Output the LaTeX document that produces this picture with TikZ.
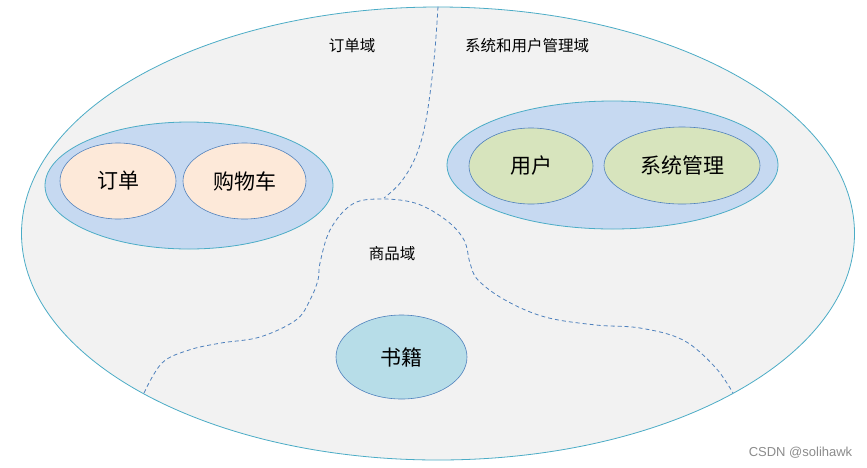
\documentclass[tikz,border=0pt]{standalone}
\usepackage{fontspec}
\usepackage{tikz}
\usetikzlibrary{shapes.geometric}

\newfontfamily\cjk{Noto Sans CJK SC}
\setsansfont{Liberation Sans}

\definecolor{rim}{HTML}{4BACC6}
\definecolor{canvasgray}{HTML}{F2F2F2}
\definecolor{groupblue}{HTML}{C6D9F1}
\definecolor{edgeblue}{HTML}{4F81BD}
\definecolor{peach}{HTML}{FDE9D9}
\definecolor{sage}{HTML}{D7E4BD}
\definecolor{skyblue}{HTML}{B7DDE8}

\tikzset{
  bigoval/.style={ellipse, draw=rim, fill=canvasgray, line width=0.8pt, inner sep=0pt},
  groupoval/.style={ellipse, draw=rim, fill=groupblue, line width=0.8pt, inner sep=0pt},
  entity/.style={ellipse, draw=edgeblue, line width=0.6pt, inner sep=0pt, font=\cjk\fontsize{21}{21}\selectfont},
  zonelabel/.style={font=\cjk\fontsize{15.5}{15.5}\selectfont},
  zoneline/.style={draw=edgeblue, line width=0.8pt, dash pattern=on 4pt off 3pt}
}

\begin{document}
\begin{tikzpicture}[x=1pt,y=-1pt]
    \fill[white] (0,0) rectangle (867,467);
    \useasboundingbox (0,0) rectangle (867,467);

    % whole system
    \node (world) at (438,233.5) [bigoval, minimum width=833pt, minimum height=453pt] {};

    % domain borders
    \coordinate (split) at (384,198);
    \coordinate (leftfoot) at (144,393);
    \coordinate (rightfoot) at (733,393);
    \draw[zoneline] plot[smooth, tension=0.6] coordinates {(world.north) (434,60) (426,120) (416,156) (401,182) (split)};
    \draw[zoneline] plot[smooth, tension=0.6] coordinates {(leftfoot) (162,363) (189,350) (221,343) (260,337) (296,320) (310,300) (318,280) (320,263) (330,230) (351,205) (377,199) (415,203) (446,220) (464,240) (470,263) (478,280) (505,300) (545,317) (596,325) (640,328) (683,340) (715,367) (rightfoot)};

    % order domain
    \node (ordergrp) at (189,185.5) [groupoval, minimum width=288pt, minimum height=127pt] {};
    \node (order) at (118,181) [entity, fill=peach, minimum width=116pt, minimum height=76pt] {订单};
    \node (cart) at (244.5,181) [entity, fill=peach, minimum width=123pt, minimum height=76pt] {购物车};

    % system and user domain
    \node (usergrp) at (612.5,165) [groupoval, minimum width=331pt, minimum height=128pt] {};
    \node (user) at (531,166) [entity, fill=sage, minimum width=124pt, minimum height=76pt] {用户};
    \node (sysmgr) at (682,165.5) [entity, fill=sage, minimum width=156pt, minimum height=77pt] {系统管理};

    % goods domain
    \node (book) at (401.5,357) [entity, fill=skyblue, minimum width=131pt, minimum height=84pt] {书籍};

    \node (orderlbl) at (352,45.5) [zonelabel] {订单域};
    \node (syslbl) at (527,45.5) [zonelabel] {系统和用户管理域};
    \node (goodslbl) at (392,254) [zonelabel] {商品域};

    \node (mark) at (800.5,452.5) [font=\sffamily\fontsize{13}{13}\selectfont, text=black!45] {CSDN @solihawk};
\end{tikzpicture}
\end{document}
